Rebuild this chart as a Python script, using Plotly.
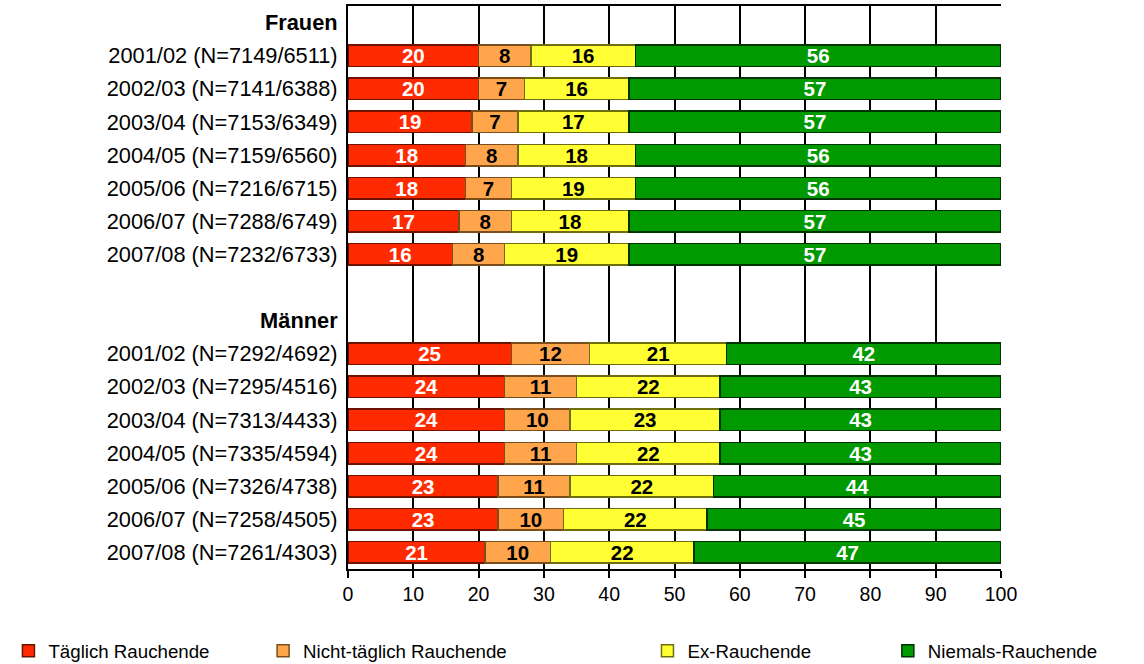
import plotly.graph_objects as go

categories = [
    "<b>Frauen</b>",
    "2001/02 (N=7149/6511)", "2002/03 (N=7141/6388)", "2003/04 (N=7153/6349)",
    "2004/05 (N=7159/6560)", "2005/06 (N=7216/6715)", "2006/07 (N=7288/6749)",
    "2007/08 (N=7232/6733)",
    " ",
    "<b>Männer</b>",
    "2001/02 (N=7292/4692)", "2002/03 (N=7295/4516)", "2003/04 (N=7313/4433)",
    "2004/05 (N=7335/4594)", "2005/06 (N=7326/4738)", "2006/07 (N=7258/4505)",
    "2007/08 (N=7261/4303)",
]

taeglich = [None, 20, 20, 19, 18, 18, 17, 16, None, None, 25, 24, 24, 24, 23, 23, 21]
nicht_taeglich = [None, 8, 7, 7, 8, 7, 8, 8, None, None, 12, 11, 10, 11, 11, 10, 10]
ex = [None, 16, 16, 17, 18, 19, 18, 19, None, None, 21, 22, 23, 22, 22, 22, 22]
niemals = [None, 56, 57, 57, 56, 56, 57, 57, None, None, 42, 43, 43, 43, 44, 45, 47]

series_names = ["Täglich Rauchende", "Nicht-täglich Rauchende", "Ex-Rauchende", "Niemals-Rauchende"]
x_ticks = [0, 10, 20, 30, 40, 50, 60, 70, 80, 90, 100]

fills = ["#ff2a00", "#ffa64d", "#ffff33", "#009900"]
outlines = ["#6e1200", "#7a4e1a", "#6e6e10", "#003300"]
text_colors = ["white", "black", "black", "white"]
legend_ids = ["legend", "legend2", "legend3", "legend4"]
legend_x = [-0.52, -0.130, 0.4586, 0.8267]

font_family = "Liberation Sans, Arial, Helvetica, sans-serif"

fig = go.Figure()
for name, vals, fc, lc, tc, lg in zip(series_names, [taeglich, nicht_taeglich, ex, niemals],
                                      fills, outlines, text_colors, legend_ids):
    fig.add_trace(go.Bar(
        y=categories, x=vals, orientation="h", name=name,
        marker=dict(color=fc, line=dict(color=lc, width=1.5)),
        width=0.65,
        text=[("" if v is None else str(v)) for v in vals],
        textposition="inside", insidetextanchor="middle", textangle=0,
        textfont=dict(family=font_family, size=20.5, color=tc, weight="bold"),
        legend=lg,
    ))

layout_legends = {}
for lg, lx in zip(legend_ids, legend_x):
    layout_legends[lg] = dict(
        x=lx, y=-0.1456, xanchor="left", yanchor="middle",
        orientation="h", bgcolor="rgba(0,0,0,0)",
        font=dict(family=font_family, size=18.7, color="black"),
    )

fig.update_layout(
    barmode="stack",
    width=1144, height=664,
    margin=dict(l=348, r=143, t=6, b=95, autoexpand=False),
    paper_bgcolor="white", plot_bgcolor="white",
    font=dict(family=font_family, size=19, color="black"),
    uniformtext=dict(minsize=20, mode="show"),
    showlegend=True,
    **layout_legends,
)

fig.update_xaxes(
    range=[0, 100], tickvals=x_ticks, ticktext=[str(t) for t in x_ticks],
    showgrid=True, gridcolor="black", gridwidth=1.5,
    showline=True, linecolor="black", linewidth=2, mirror=True,
    ticks="outside", ticklen=7, tickwidth=1.5, tickcolor="black",
    tickfont=dict(size=19.5), zeroline=False, automargin=False,
)
fig.update_yaxes(
    type="category", categoryorder="array", categoryarray=categories,
    autorange="reversed",
    showgrid=False, showline=True, linecolor="black", linewidth=2,
    ticks="", tickfont=dict(size=21.8), ticklabelstandoff=4, automargin=False,
)

fig.write_html(
    "out.html",
    config={"displayModeBar": False},
    post_script="document.body.style.margin='0';document.body.style.overflow='hidden';",
)
